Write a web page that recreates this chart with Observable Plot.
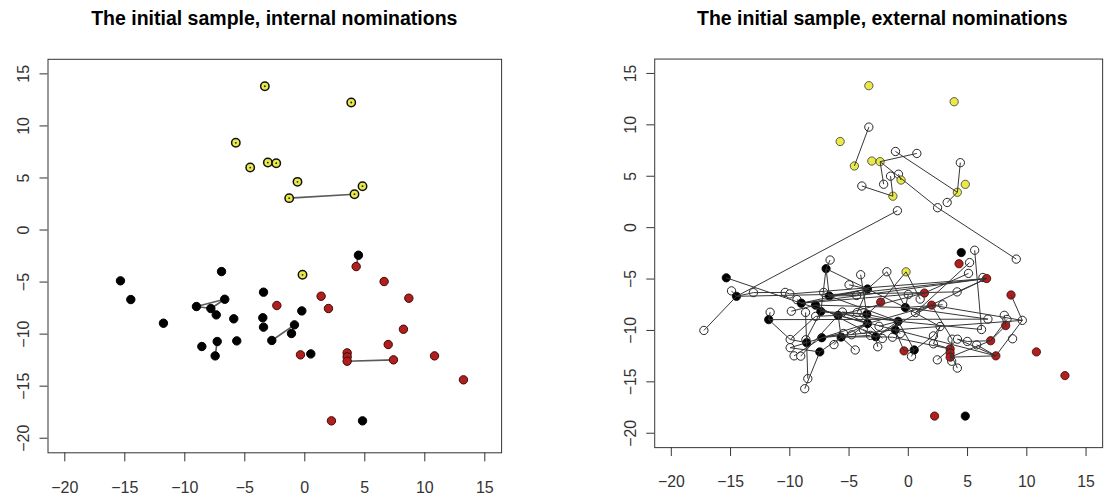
<!DOCTYPE html>
<html>
<head>
<meta charset="utf-8">
<script src="https://cdn.jsdelivr.net/npm/d3@7"></script>
<script src="https://cdn.jsdelivr.net/npm/@observablehq/plot@0.6"></script>
<style>
  html, body { margin: 0; padding: 0; background: #fff; overflow: hidden; }
  #wrap { position: relative; width: 1106px; height: 498px; }
  .panel { position: absolute; top: 0; height: 498px; overflow: hidden; }
  .title {
    position: absolute; top: 7px; height: 33px; line-height: 33px;
    font: bold 19.5px "Liberation Sans", Arial, sans-serif; color: #000;
    white-space: nowrap; transform: translateX(-50%);
  }
  .chart { position: absolute; top: 40px; left: 0; }
</style>
</head>
<body>
<div id="wrap">
  <div class="panel" id="left" style="left:0;width:553px"></div>
  <div class="panel" id="right" style="left:553px;width:553px"></div>
</div>
<script>
// Panel titles
const titles = ["The initial sample, internal nominations", "The initial sample, external nominations"];

// Axis ticks
const xTicks = [-20, -15, -10, -5, 0, 5, 10, 15];
const yTicks = [-20, -15, -10, -5, 0, 5, 10, 15];

// Initial sample: node id, coordinates and group
const sampleId = ["y1","y2","y3","y4","y5","y6","y7","y8","y9","y10","y11",
  "b1","b2","b3","b4","b5","b6","b7","b8","b9","b10","b11","b12","b13","b14","b15","b16","b17","b18","b19","b20","b21","b22","b23",
  "r1","r2","r3","r4","r5","r6","r7","r8","r9","r10","r11","r12","r13","r14","r15","r16"];
const sampleX = [-3.33, 3.87, -5.75, -4.55, -3.08, -2.38, -0.61, 4.81, -1.3, 4.14, -0.19,
  -15.36, -14.5, -11.78, -9.03, -7.83, -6.67, -7.38, -6.94, -5.92, -8.58, -7.3, -7.47, -5.67, -3.44, -3.5, -3.44, -2.75, -0.86, -1.11, -0.25, 0.5, 4.47, 4.81,
  4.28, -2.33, 1.36, 1.97, 6.61, 8.67, 8.22, 6.95, -0.36, 3.53, 3.53, 3.53, 7.39, 10.81, 13.22, 2.22];
const sampleY = [13.81, 12.25, 8.38, 6.0, 6.48, 6.42, 4.63, 4.21, 3.06, 3.44, -4.3,
  -4.88, -6.68, -8.95, -7.35, -7.54, -6.65, -8.15, -3.99, -8.53, -11.19, -10.71, -12.09, -10.65, -5.97, -8.43, -9.33, -10.61, -9.11, -9.94, -7.77, -11.9, -2.42, -18.33,
  -3.51, -7.25, -6.36, -7.54, -4.95, -6.55, -9.53, -11.0, -11.99, -11.8, -12.18, -12.6, -12.47, -12.09, -14.39, -18.33];
const sampleGroup = ["yellow","yellow","yellow","yellow","yellow","yellow","yellow","yellow","yellow","yellow","yellow",
  "black","black","black","black","black","black","black","black","black","black","black","black","black","black","black","black","black","black","black","black","black","black","black",
  "red","red","red","red","red","red","red","red","red","red","red","red","red","red","red","red"];

// Externally nominated persons (ids h1, h2, ...)
const outsideX = [-3.33, -1.08, 0.72, 4.39, -1.5, -0.83, -2.08, -3.92, 3.28, 2.47, -0.92, 9.11, 5.6, 5.17, 5.08, 6.3,
  -6.6, -4.02, -1.81, -5.0, -14.92, -13.07, -10.39, -10.0, -17.25, -11.66, -9.87, -8.67, -7.82, -5.56, -4.31,
  0.0, 1.0, 0.6, 2.9, 2.68, 4.12, 6.72, 6.18, 8.1, 8.33, 9.62, 8.8, -9.97, -9.97, -9.64, -9.08, -8.64, -6.27,
  -4.48, -4.78, -8.48, -8.74, -3.2, -2.19, -1.33, -0.67, -2.58, 0.27, 2.12, 2.12, 2.45, 3.7, 4.15, 4.98, 5.77,
  3.66, 4.14, -7.14, -4.36, -5.47, -3.8, -2.47, -9.4];
const outsideY = [9.78, 7.41, 7.22, 6.32, 5.01, 5.2, 4.22, 4.05, 2.45, 1.94, 1.65, -3.06, -2.2, -3.4, -4.45, -4.85,
  -3.15, -4.58, -4.29, -5.56, -6.15, -6.32, -6.3, -6.45, -10.0, -8.23, -8.13, -8.25, -8.63, -8.21, -8.25,
  -6.5, -6.95, -8.26, -7.5, -9.62, -6.25, -8.9, -9.91, -8.53, -8.93, -9.02, -10.81, -10.88, -11.68, -12.47, -12.5, -10.9, -11.38,
  -11.9, -10.42, -14.69, -15.67, -10.48, -10.78, -10.66, -10.3, -11.59, -12.53, -10.53, -11.3, -12.86, -10.85, -10.85, -11.07, -11.4,
  -13.0, -13.66, -6.3, -6.6, -10.3, -9.9, -9.6, -7.0];

// Nominations within the initial sample
const internalTies = ["y9-y10", "b4-b6", "b4-b5", "b5-b6", "b11-b12", "b17-b18", "b22-r1", "r12-r13"];

// Nominations including persons outside the sample
const externalTies = ["h1-y4","y6-h3","y6-h7","y6-h10","h10-h12","h2-y10","h9-y10","y10-h4","h5-y9","h8-y9","h6-y7",
  "h11-b2","h25-b2","h21-b2","b1-b4","b2-h22","h22-h23","h23-h24","b2-h37","h24-r5","b3-h38","b3-h44","b3-h26",
  "b8-h17","b8-b14","b8-b7","b8-b6","b14-h19","b14-b20","b14-b4","y11-h33","y11-r2","r3-h15","r5-h16","r5-b6","r5-h34",
  "h13-h39","h14-h34","r6-h42","r7-h40","h42-r13","r13-r12","r13-h66","b19-r13","b21-h60","b21-r9","b21-b18","h28-h52",
  "b12-h53","b10-h44","b10-h45","h44-h29","h47-b9","h46-b11","b13-h50","b16-h51","b9-b13","b15-b16","b17-b18","b18-b19",
  "b20-h38","b20-h36","b17-h58","b11-b16","b5-b20","b6-b14","b7-b15","b4-b9","b5-b17","b6-b18","r4-h42","r4-h63","r2-b15",
  "b9-b16","b13-b17","b11-b19","r10-h62","r11-h68","r12-h67","h64-h65","r8-h41","r8-r12","r7-r8","h60-h36","h61-h36",
  "h27-b5","h69-b6","h70-b14","h18-b15","h20-b14","b15-h30","b16-h31","h72-b17","h73-b18","h71-b11","h57-b19","h56-b17",
  "h55-b16","h54-b13","b21-h59","h32-b20","r3-b4","h74-b4","b10-b11","b19-h42","b18-h39","r9-b19","h19-b20","b16-r4",
  "b7-h48","h49-b13","h35-b20","h61-r10","h63-r12","h64-r13","h65-r8","b9-r3","b6-h70","h37-r5","b4-r5",
  "b7-b18","b9-b19","b13-b16","h30-b16","b12-b13","h45-b12","h29-b9","b15-b18","b14-h31","b11-h71","b17-r4","h56-r10"];

// ---- build records ----
const sample = sampleId.map((id, i) => ({id, x: sampleX[i], y: sampleY[i], group: sampleGroup[i]}));
const outside = outsideX.map((x, i) => ({id: "h" + (i + 1), x, y: outsideY[i]}));
const byId = new Map([...sample, ...outside].map(d => [d.id, d]));
const toLinks = list => list.map(s => {
  const [a, b] = s.split("-");
  return {a: byId.get(a), b: byId.get(b)};
});

const lim = [-21.4, 16.4]; // range of [-20, 15] widened by 4% on each side

const linkOpts = {x1: d => d.a.x, y1: d => d.a.y, x2: d => d.b.x, y2: d => d.b.y};
const ofGroup = g => sample.filter(d => d.group === g);

function axes() {
  return [
    Plot.frame({stroke: "#333", strokeWidth: 1}),
    Plot.axisX(xTicks, {label: null, tickSize: 9, tickPadding: 20, fontSize: 16, stroke: "#333", fill: "#333"}),
    Plot.axisY(yTicks, {label: null, tickSize: 8, tickRotate: -90, tickPadding: 11, fontSize: 16, stroke: "#333", fill: "#333"})
  ];
}

function makePlot(marks, {width, marginLeft, marginRight}) {
  return Plot.plot({
    width, height: 458,
    marginTop: 18.8, marginBottom: 45.7, marginLeft, marginRight,
    x: {domain: lim, axis: null},
    y: {domain: lim, axis: null},
    style: {fontFamily: "'Liberation Sans', Arial, sans-serif", fontSize: "16px", color: "#333", background: "transparent"},
    marks
  });
}

function addPanel(host, title, titleCenter, svg) {
  const t = document.createElement("div");
  t.className = "title";
  t.style.left = titleCenter + "px";
  t.textContent = title;
  host.appendChild(t);
  svg.classList.add("chart");
  host.appendChild(svg);
}

// Internal nominations
const leftPlot = makePlot([
  ...axes(),
  Plot.link(toLinks(internalTies), {...linkOpts, stroke: "#5a5a5a", strokeWidth: 1.6}),
  Plot.dot(ofGroup("black"), {x: "x", y: "y", r: 4.2, fill: "#000", stroke: "#000", strokeWidth: 1}),
  Plot.dot(ofGroup("red"), {x: "x", y: "y", r: 4.2, fill: "#b01e1e", stroke: "#3c0808", strokeWidth: 1}),
  Plot.dot(ofGroup("yellow"), {x: "x", y: "y", r: 4.2, fill: "#e9e94a", stroke: "#111", strokeWidth: 1.5}),
  Plot.dot(ofGroup("yellow"), {x: "x", y: "y", r: 0.9, fill: "#222", stroke: "none"})
], {width: 553, marginLeft: 47.5, marginRight: 51.9});
addPanel(document.getElementById("left"), titles[0], 274.3, leftPlot);

// External nominations
const rightPlot = makePlot([
  ...axes(),
  Plot.dot(outside, {x: "x", y: "y", r: 4.2, fill: "#fff", stroke: "#222", strokeWidth: 1}),
  Plot.dot(ofGroup("black"), {x: "x", y: "y", r: 4.2, fill: "#000", stroke: "#000", strokeWidth: 0.8}),
  Plot.dot(ofGroup("red"), {x: "x", y: "y", r: 4.2, fill: "#b01e1e", stroke: "#3c0808", strokeWidth: 0.8}),
  Plot.dot(ofGroup("yellow"), {x: "x", y: "y", r: 4.2, fill: "#e9e94a", stroke: "#333", strokeWidth: 0.8}),
  Plot.link(toLinks(externalTies), {...linkOpts, stroke: "#333", strokeWidth: 1})
], {width: 560, marginLeft: 102.5, marginRight: 3.9});
addPanel(document.getElementById("right"), titles[1], 329.3, rightPlot);
</script>
</body>
</html>
